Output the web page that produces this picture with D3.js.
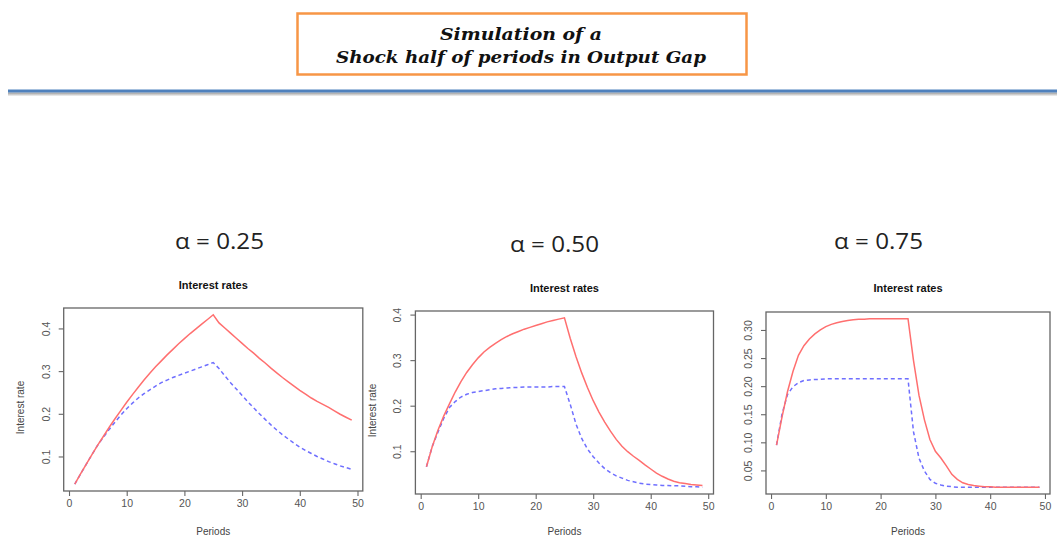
<!DOCTYPE html>
<html>
<head>
<meta charset="utf-8">
<script src="https://cdn.jsdelivr.net/npm/d3@7"></script>
<style>
  body { margin: 0; background: #fff; }
  svg { display: block; }
</style>
</head>
<body>
<div id="viz"></div>
<script>
// periods 1..49 on the x axis
var periods = d3.range(1, 50);

// alpha = 0.25
var redA25 = [0.035, 0.059, 0.082, 0.105, 0.127, 0.148, 0.169, 0.189, 0.208, 0.227,
              0.245, 0.262, 0.279, 0.295, 0.310, 0.324, 0.338, 0.351, 0.364, 0.376,
              0.388, 0.399, 0.410, 0.421, 0.432, 0.413, 0.401, 0.389, 0.377, 0.365,
              0.353, 0.342, 0.330, 0.319, 0.307, 0.296, 0.285, 0.275, 0.265, 0.255,
              0.246, 0.237, 0.229, 0.222, 0.215, 0.207, 0.199, 0.192, 0.185];
var blueA25 = [0.035, 0.059, 0.082, 0.105, 0.127, 0.146, 0.164, 0.181, 0.197, 0.212,
               0.225, 0.237, 0.247, 0.256, 0.265, 0.273, 0.279, 0.285, 0.290, 0.295,
               0.300, 0.305, 0.310, 0.315, 0.320, 0.306, 0.289, 0.273, 0.258, 0.243,
               0.228, 0.214, 0.200, 0.187, 0.174, 0.162, 0.151, 0.141, 0.131, 0.122,
               0.114, 0.107, 0.100, 0.094, 0.088, 0.083, 0.078, 0.074, 0.070];

// alpha = 0.50
var redA50 = [0.066, 0.110, 0.146, 0.177, 0.204, 0.230, 0.253, 0.273, 0.290, 0.305,
              0.318, 0.328, 0.337, 0.345, 0.352, 0.358, 0.363, 0.368, 0.372, 0.376,
              0.380, 0.384, 0.387, 0.390, 0.393, 0.348, 0.308, 0.272, 0.240, 0.211,
              0.186, 0.164, 0.144, 0.126, 0.111, 0.099, 0.089, 0.080, 0.070, 0.061,
              0.052, 0.045, 0.039, 0.034, 0.031, 0.029, 0.027, 0.026, 0.025];
var blueA50 = [0.066, 0.110, 0.142, 0.172, 0.196, 0.209, 0.219, 0.225, 0.229, 0.231,
               0.233, 0.235, 0.237, 0.238, 0.239, 0.240, 0.240, 0.241, 0.241, 0.241,
               0.241, 0.241, 0.242, 0.242, 0.242, 0.203, 0.160, 0.128, 0.105, 0.088,
               0.074, 0.062, 0.053, 0.046, 0.041, 0.036, 0.033, 0.030, 0.028, 0.027,
               0.026, 0.025, 0.025, 0.024, 0.024, 0.023, 0.022, 0.022, 0.021];

// alpha = 0.75
var redA75 = [0.095, 0.145, 0.190, 0.226, 0.255, 0.272, 0.284, 0.293, 0.300, 0.306,
              0.310, 0.313, 0.315, 0.317, 0.318, 0.319, 0.319, 0.320, 0.320, 0.320,
              0.320, 0.320, 0.320, 0.320, 0.320, 0.246, 0.184, 0.140, 0.105, 0.084,
              0.072, 0.058, 0.043, 0.034, 0.028, 0.025, 0.023, 0.022, 0.021, 0.021,
              0.020, 0.020, 0.020, 0.020, 0.020, 0.020, 0.020, 0.020, 0.020];
var blueA75 = [0.095, 0.150, 0.185, 0.199, 0.206, 0.210, 0.211, 0.212, 0.212, 0.213,
               0.213, 0.213, 0.213, 0.213, 0.213, 0.213, 0.213, 0.213, 0.213, 0.213,
               0.213, 0.213, 0.213, 0.213, 0.213, 0.119, 0.072, 0.049, 0.034, 0.027,
               0.024, 0.022, 0.021, 0.020, 0.020, 0.020, 0.020, 0.020, 0.020, 0.020,
               0.020, 0.020, 0.020, 0.020, 0.020, 0.020, 0.020, 0.020, 0.020];

var alphaLabels = ["\u03b1 = 0.25", "\u03b1 = 0.50", "\u03b1 = 0.75"];
var xTicks = [0, 10, 20, 30, 40, 50];
var yTicks25 = [0.1, 0.2, 0.3, 0.4],
    yTicks50 = [0.1, 0.2, 0.3, 0.4],
    yTicks75 = [0.05, 0.10, 0.15, 0.20, 0.25, 0.30];
var titleLines = ["Simulation of a", "Shock half of periods in Output Gap"];

var svg_dx = 1057, svg_dy = 538;

var svg = d3.select("#viz")
            .append("svg")
            .attr("width", svg_dx)
            .attr("height", svg_dy);

// ---- slide header ----
var defs = svg.append("defs");
var grad = defs.append("linearGradient")
               .attr("id", "shadow")
               .attr("x1", 0).attr("y1", 0).attr("x2", 0).attr("y2", 1);
grad.append("stop").attr("offset", "0%").attr("stop-color", "#9a9a9a");
grad.append("stop").attr("offset", "100%").attr("stop-color", "#ffffff");

svg.append("rect")
   .attr("x", 297.5).attr("y", 13.5)
   .attr("width", 449).attr("height", 61)
   .style("fill", "#fff")
   .style("stroke", "#F79646")
   .style("stroke-width", 2.5);

svg.selectAll("text.headline")
   .data(titleLines)
   .enter()
   .append("text")
   .attr("class", "headline")
   .attr("x", 521)
   .attr("y", (d, i) => 40 + i * 23)
   .attr("text-anchor", "middle")
   .attr("textLength", (d, i) => i == 0 ? 162 : 370)
   .attr("lengthAdjust", "spacingAndGlyphs")
   .style("font-family", "DejaVu Serif")
   .style("font-style", "italic")
   .style("font-weight", "bold")
   .style("font-size", "16px")
   .style("fill", "#111")
   .text(d => d);

svg.append("rect")
   .attr("x", 8).attr("y", 92.5)
   .attr("width", svg_dx - 8).attr("height", 4)
   .style("fill", "url(#shadow)");
svg.append("rect")
   .attr("x", 8).attr("y", 89.5)
   .attr("width", svg_dx - 8).attr("height", 3)
   .style("fill", "#4F81BD");

// ---- panels ----
var panels = [
  {red: redA25, blue: blueA25, ticks: yTicks25, fmt: ".1f", label: alphaLabels[0],
   left: 63.7, right: 362.8, top: 308, bottom: 491, titleY: 289, labelX: 175, labelY: 249, ylab: 20},
  {red: redA50, blue: blueA50, ticks: yTicks50, fmt: ".1f", label: alphaLabels[1],
   left: 415.4, right: 713.5, top: 311, bottom: 494, titleY: 292, labelX: 510, labelY: 252, ylab: 372},
  {red: redA75, blue: blueA75, ticks: yTicks75, fmt: ".2f", label: alphaLabels[2],
   left: 766, right: 1050, top: 312, bottom: 494, titleY: 292, labelX: 834, labelY: 249, ylab: null}
];

panels.forEach(function (p) {

  var all = p.red.concat(p.blue),
      lo = d3.min(all), hi = d3.max(all),
      pad = (hi - lo) * 0.04;

  var x = d3.scaleLinear().domain([1 - 48 * 0.04, 49 + 48 * 0.04]).range([p.left, p.right]);
  var y = d3.scaleLinear().domain([lo - pad, hi + pad]).range([p.bottom, p.top]);

  var g = svg.append("g");

  // alpha heading
  g.append("text")
   .attr("x", p.labelX)
   .attr("y", p.labelY)
   .attr("textLength", 89)
   .attr("lengthAdjust", "spacingAndGlyphs")
   .style("font-family", "Open Sans")
   .style("font-size", "21px")
   .style("fill", "#222")
   .text(p.label);

  // plot title
  g.append("text")
   .attr("x", (p.left + p.right) / 2)
   .attr("y", p.titleY)
   .attr("text-anchor", "middle")
   .style("font-family", "Liberation Sans")
   .style("font-weight", "bold")
   .style("font-size", "11px")
   .style("fill", "#111")
   .text("Interest rates");

  var xa = g.append("g")
            .attr("transform", "translate(0," + p.bottom + ")")
            .call(d3.axisBottom(x).tickValues(xTicks).tickSize(5).tickSizeOuter(0).tickPadding(4));

  var ya = g.append("g")
            .attr("transform", "translate(" + p.left + ",0)")
            .call(d3.axisLeft(y).tickValues(p.ticks).tickFormat(d3.format(p.fmt)).tickSize(5).tickSizeOuter(0));

  ya.selectAll(".tick text")
    .attr("x", 0)
    .attr("y", -14)
    .attr("dy", 0)
    .attr("transform", "rotate(-90)")
    .attr("text-anchor", "middle");

  [xa, ya].forEach(function (a) {
    a.select(".domain").remove();
    a.selectAll(".tick line").style("stroke", "#666").style("stroke-width", 1.1);
    a.selectAll(".tick text")
     .style("font-family", "Liberation Sans")
     .style("font-size", "10.5px")
     .style("fill", "#555");
  });

  g.append("rect")
   .attr("x", p.left).attr("y", p.top)
   .attr("width", p.right - p.left).attr("height", p.bottom - p.top)
   .style("fill", "none")
   .style("stroke", "#666")
   .style("stroke-width", 1.3);

  // axis titles
  g.append("text")
   .attr("x", (p.left + p.right) / 2)
   .attr("y", 535)
   .attr("text-anchor", "middle")
   .style("font-family", "Liberation Sans")
   .style("font-size", "10px")
   .style("fill", "#444")
   .text("Periods");

  if (p.ylab != null) {
    g.append("text")
     .attr("transform", "translate(" + (p.ylab + 4) + "," + ((p.top + p.bottom) / 2 + 8) + ") rotate(-90)")
     .attr("text-anchor", "middle")
     .style("font-family", "Liberation Sans")
     .style("font-size", "10px")
     .style("fill", "#444")
     .text("Interest rate");
  }

  var line = d3.line()
               .x((d, i) => x(periods[i]))
               .y(d => y(d));

  g.append("path")
   .datum(p.blue)
   .attr("d", line)
   .style("fill", "none")
   .style("stroke", "#6f6fff")
   .style("stroke-width", 1.5)
   .style("stroke-dasharray", "4,3");

  g.append("path")
   .datum(p.red)
   .attr("d", line)
   .style("fill", "none")
   .style("stroke", "#ff6f6f")
   .style("stroke-width", 1.5);
});
</script>
</body>
</html>
